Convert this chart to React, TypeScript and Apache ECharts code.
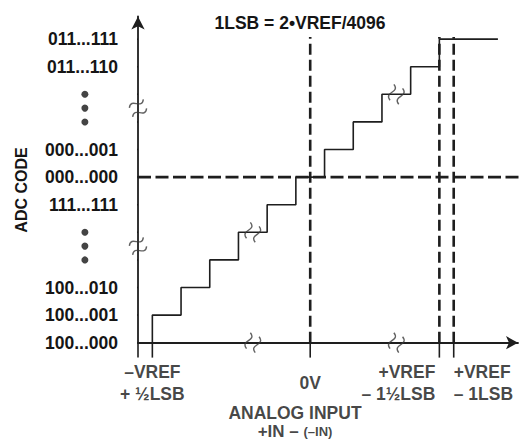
import React, { useEffect, useRef } from "react";
import * as echarts from "echarts";

// ---- data (x in LSB from -VREF, y in code steps from 100...000) ----
const codeLabels = ["100...000", "100...001", "100...010", "", "", "111...111", "000...000", "000...001", "", "", "011...110", "011...111"];
const codeLevels = [0, 1, 2, 3, 4, 5, 6, 7, 8, 9, 10, 11];
const stepInputs = [0.5, 1.5, 2.5, 3.5, 4.5, 5.5, 6.5, 7.5, 8.5, 9.5, 10.5, 12.54];
const stepCodes = [0, 1, 2, 3, 4, 5, 6, 7, 8, 9, 10, 11];
const markInputs = [0, 0.5, 6, 10.5, 11];
const inputLabels = ["–VREF\n+ ½LSB", "0V", "+VREF\n– 1½LSB", "+VREF\n– 1LSB"];
const inputLabelX = [0.5, 6, 10.5, 11];
const inputLabelAlign = ["center", "center", "right", "left"];
const dashedInputs = [6, 10.5, 11];
const zeroCode = 6;
const axisBreaksX = [4, 9];
const axisBreaksY = [3.5, 8.5];
const stairBreaks = [[4, 4], [9, 9]];
const ellipsisCodes = [3, 3.5, 4, 8, 8.5, 9];

const X_MAX = 13.24;
const Y_MAX = 11.82;
const DASH_TOP = 11.08;
const TEXT = "#151515";
const LINE = "#1e1e1e";
const FONT = "'Liberation Sans', Arial, sans-serif";
const BREAK_PATH = "path://M0,6 C3,0 7,10 10,4 M0,12 C3,6 7,16 10,10";

function seg(points: number[][], width: number, dashed?: number[]) {
  return {
    type: "line",
    data: points,
    showSymbol: false,
    symbol: "none",
    clip: false,
    silent: true,
    z: 3,
    lineStyle: { color: LINE, width, type: dashed ? dashed : "solid" },
  };
}

export default function App() {
  const ref = useRef<HTMLDivElement>(null);
  useEffect(() => {
    if (!ref.current) return;
    const chart = echarts.init(ref.current, undefined, { renderer: "svg" });
    const series: any[] = [];

    // staircase transfer function
    series.push({
      ...seg(stepInputs.map((x, i) => [x, stepCodes[i]]), 1.6),
      step: "start",
      z: 4,
    });
    // vertical dashed lines
    dashedInputs.forEach((x) => series.push(seg([[x, 0], [x, DASH_TOP]], 2.6, [11, 5])));
    // horizontal dashed line at 000...000
    series.push(seg([[0, zeroCode], [13.45, zeroCode]], 2.6, [13, 4.5]));
    // y ticks
    codeLevels.forEach((c) => series.push(seg([[-0.49, c], [0, c]], 1.5)));
    // x ticks below axis
    markInputs.forEach((x) => series.push(seg([[x, 0], [x, -0.54]], 1.6)));

    // break symbols
    series.push({
      type: "scatter",
      clip: false,
      silent: true,
      z: 6,
      symbol: BREAK_PATH,
      symbolKeepAspect: true,
      symbolSize: 16,
      itemStyle: { color: "rgba(0,0,0,0)", borderColor: "#3a3a3a", borderWidth: 1.4 },
      data: [
        ...axisBreaksY.map((y) => ({ value: [0, y], symbolRotate: 20 })),
        ...axisBreaksX.map((x) => ({ value: [x, 0], symbolRotate: 65 })),
        ...stairBreaks.map((p) => ({ value: p, symbolRotate: 65 })),
      ],
    });

    // vertical ellipsis dots
    series.push({
      type: "scatter",
      clip: false,
      silent: true,
      symbol: "circle",
      symbolSize: 7,
      itemStyle: { color: TEXT },
      data: ellipsisCodes.map((c) => [-1.85, c]),
    });

    // x labels
    series.push({
      type: "scatter",
      clip: false,
      silent: true,
      symbolSize: 1,
      itemStyle: { color: "rgba(0,0,0,0)" },
      label: {
        show: true,
        position: "inside",
        color: TEXT,
        fontFamily: FONT,
        fontWeight: "bold",
        fontSize: 17.5,
        lineHeight: 22,
        verticalAlign: "middle",
      },
      data: [
        ...inputLabels.map((t, i) => ({
          value: [inputLabelX[i], -1.46],
          label: {
            formatter: t,
            align: inputLabelAlign[i],
            offset: inputLabelAlign[i] === "right" ? [-4, 0] : [0, 0],
          },
        })),
        {
          value: [5.47, -2.55],
          label: { formatter: "ANALOG INPUT", align: "center", lineHeight: 18 },
        },
        {
          value: [5.47, -3.22],
          label: {
            formatter: "{a|+IN – }{b|(–IN)}",
            align: "center",
            lineHeight: 16,
            rich: {
              a: { fontSize: 17, fontWeight: "bold", color: TEXT, fontFamily: FONT, lineHeight: 16 },
              b: { fontSize: 13, fontWeight: "bold", color: TEXT, fontFamily: FONT, lineHeight: 16 },
            },
          },
        },
      ],
    });

    chart.setOption({
      animation: false,
      backgroundColor: "#ffffff",
      grid: { left: 138, top: 16.5, width: 380, height: 326.2, containLabel: false },
      xAxis: {
        type: "value",
        min: 0,
        max: X_MAX,
        axisLine: { show: true, symbol: ["none", "arrow"], symbolSize: [10, 12], lineStyle: { color: LINE, width: 1.8 } },
        axisTick: { show: false },
        axisLabel: { show: false },
        splitLine: { show: false },
      },
      yAxis: {
        type: "value",
        min: 0,
        max: Y_MAX,
        interval: 1,
        axisLine: { show: true, symbol: ["none", "arrow"], symbolSize: [10, 13], lineStyle: { color: LINE, width: 1.8 } },
        axisTick: { show: false },
        splitLine: { show: false },
        axisLabel: {
          margin: 20,
          color: TEXT,
          fontFamily: FONT,
          fontWeight: "bold",
          fontSize: 17.5,
          formatter: (v: number) => (Number.isInteger(v) && codeLabels[v] !== undefined ? codeLabels[v] : ""),
        },
      },
      graphic: [
        {
          type: "text",
          x: 300,
          y: 23,
          style: {
            text: "1LSB = 2•VREF/4096",
            fill: TEXT,
            font: `bold 17.5px ${FONT}`,
            textAlign: "center",
            textVerticalAlign: "middle",
          },
        },
        {
          type: "text",
          x: 21,
          y: 190,
          rotation: Math.PI / 2,
          style: {
            text: "ADC CODE",
            fill: TEXT,
            font: `bold 16px ${FONT}`,
            textAlign: "center",
            textVerticalAlign: "middle",
          },
        },
      ],
      series,
    });
    return () => chart.dispose();
  }, []);
  return <div ref={ref} style={{ position: "fixed", left: 0, top: 0, width: 524, height: 443 }} />;
}
